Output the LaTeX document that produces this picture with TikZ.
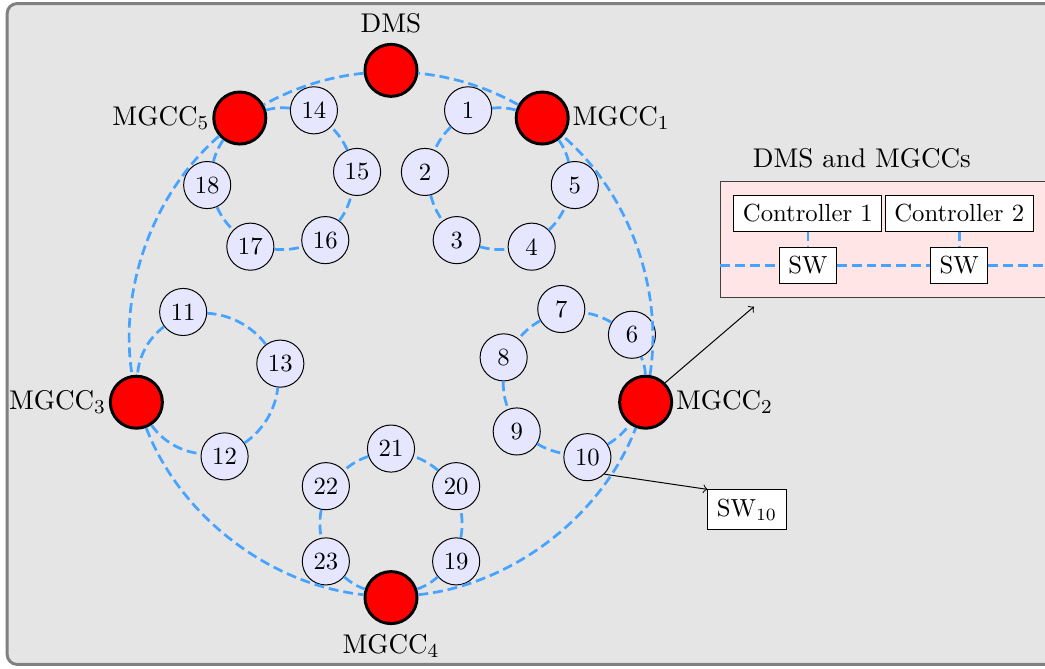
\documentclass[tikz,border=0pt,11pt]{standalone}
\usepackage{amssymb, amsmath}
\usepackage{color}
\usepackage{tikz}
\usetikzlibrary{positioning}
\definecolor{buscol}{RGB}{70, 163, 255}
\definecolor{lav}{RGB}{230, 230, 255}

\begin{document}
\begin{tikzpicture}[scale=1,
  link/.style={draw=buscol, line width=1.1pt, dash pattern=on 4pt off 2pt, looseness=0.88},
  mg/.style={circle, draw, very thick, fill=red, minimum size=0.74cm, inner sep=0pt},
  dev/.style={circle, draw, fill=lav, minimum size=0.67cm, inner sep=1pt, font=\small},
  box/.style={rectangle, draw, fill=white, font=\small}]
  \useasboundingbox (-5.562, -4.765) rectangle (9.303, 4.751);
  \draw[gray, very thick, fill=gray!20, rounded corners] (-5.46, -4.70) rectangle (9.9, 4.70);

  % DMS and the MGCCs on the outer ring
  \node[mg, label=above:DMS] (dms) at (90:3.75) {};
  \node[mg, label={[inner sep=1pt]right:MGCC$_1$}] (mgcc1) at (55:3.75) {};
  \node[mg, label={[inner sep=1pt]right:MGCC$_2$}] (mgcc2) at (-15:3.75) {};
  \node[mg, label={[inner sep=1pt]left:MGCC$_3$}] (mgcc3) at (195:3.75) {};
  \node[mg, label=below:MGCC$_4$] (mgcc4) at (-90:3.75) {};
  \node[mg, label={[inner sep=1pt]left:MGCC$_5$}] (mgcc5) at (125:3.75) {};

  % buses of each microgrid
  \foreach \n/\a in {1/115, 2/175, 3/235, 4/295, 5/355}
    \node[dev] (n\n) at ([shift={(55:2.7)}]\a:1.07) {\n};
  \foreach \n/\a in {6/40, 7/100, 8/160, 9/220, 10/280}
    \node[dev] (n\n) at ([shift={(-15:2.7)}]\a:1.07) {\n};
  \foreach \n/\a in {11/109, 12/-77, 13/15}
    \node[dev] (n\n) at ([shift={(195:2.7)}]\a:1.07) {\n};
  \foreach \n/\a in {19/-30, 20/30, 21/90, 22/150, 23/210}
    \node[dev] (n\n) at ([shift={(-90:2.7)}]\a:1.07) {\n};
  \foreach \n/\a in {14/65, 15/5, 16/-55, 17/-115, 18/-175}
    \node[dev] (n\n) at ([shift={(125:2.7)}]\a:1.07) {\n};

  \foreach \u/\v/\b in {dms/mgcc5/11.5, mgcc5/mgcc3/29, mgcc3/mgcc4/31.5, mgcc4/mgcc2/31.5, mgcc2/mgcc1/29, mgcc1/dms/11.5}
    \draw[link] (\u) to[bend right=\b] (\v);
  \foreach \u/\v in {mgcc1/n1, n1/n2, n2/n3, n3/n4, n4/n5, n5/mgcc1,
                     mgcc2/n6, n6/n7, n7/n8, n8/n9, n9/n10, n10/mgcc2,
                     mgcc4/n19, n19/n20, n20/n21, n21/n22, n22/n23, n23/mgcc4,
                     mgcc5/n18, n18/n17, n17/n16, n16/n15, n15/n14, n14/mgcc5}
    \draw[link] (\u) to[bend right=11] (\v);
  \foreach \u/\v in {mgcc3/n12, n12/n13, n13/n11, n11/mgcc3}
    \draw[link] (\u) to[bend right=25] (\v);

  % inside a controller
  \node[draw=black!75, fill=red!10, minimum width=4.65cm, minimum height=1.65cm] (panel) at (7.015, 1.351) {};
  \node[above right=1pt and 0.33cm of panel.north west] (paneltitle) {DMS and MGCCs};
  \node[box] (ctrl1) at (5.93, 1.72) {Controller 1};
  \node[box, right=1pt of ctrl1] (ctrl2) {Controller 2};
  \node[box, below=0.22cm of ctrl1] (sw1) {SW};
  \node[box, below=0.22cm of ctrl2] (sw2) {SW};
  \draw[link] (panel.west |- sw1) -- (sw1);
  \draw[link] (sw1) -- (sw2);
  \draw[link] (sw2) -- (panel.east |- sw2);
  \draw[link] (ctrl1) -- (sw1);
  \draw[link] (ctrl2) -- (sw2);

  \coordinate (tap) at ([shift={(0.48,-0.13)}]panel.south west);
  \draw[->] (mgcc2.north east) -- (tap);
  \node[box] (sw10) at (5.064, -2.496) {SW$_{10}$};
  \draw[->] (n10.south east) -- (sw10.north west);
\end{tikzpicture}
\end{document}
